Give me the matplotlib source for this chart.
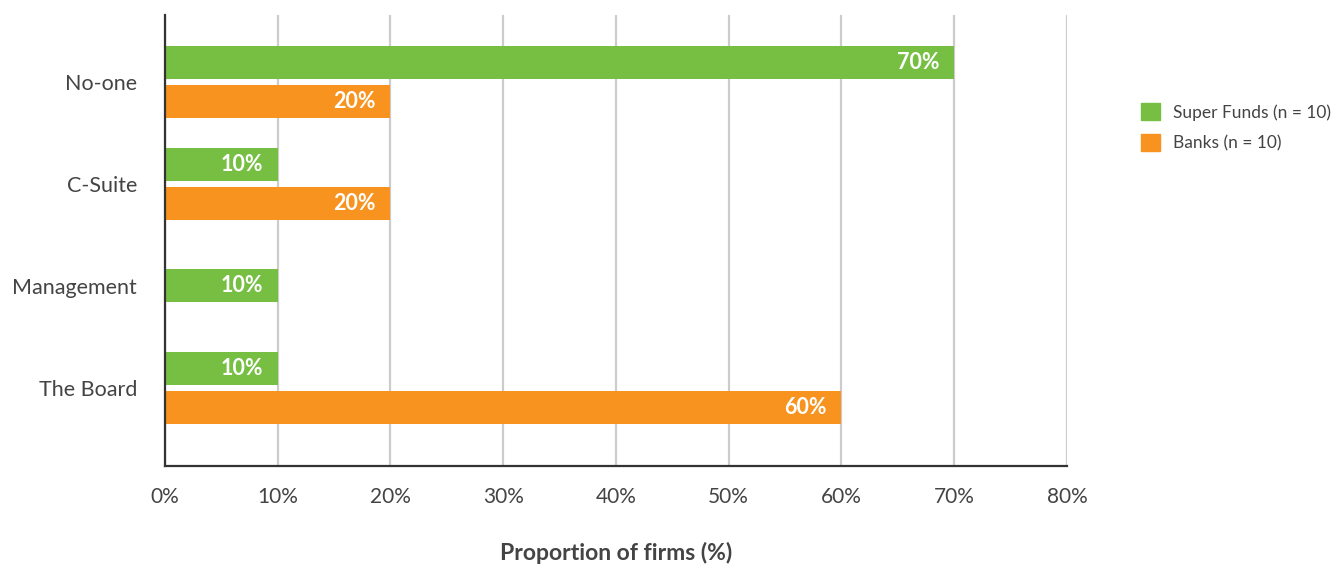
import numpy as np
import matplotlib.pyplot as plt
from matplotlib.patches import Patch

plt.rcParams['font.family'] = ['Lato', 'DejaVu Sans']

categories = ['No-one', 'C-Suite', 'Management', 'The Board']
super_funds = [70, 10, 10, 10]
banks = [20, 20, 0, 60]
series_names = ['Super Funds (n = 10)', 'Banks (n = 10)']
xticks = [0, 10, 20, 30, 40, 50, 60, 70, 80]

green = '#76bf43'
orange = '#f7931e'
text_col = '#444444'

fig = plt.figure(figsize=(13.37, 5.66), dpi=100)
ax = fig.add_axes([0.1234, 0.1767, 0.6746, 0.797])

h = 0.324
off = 0.191
y = np.arange(len(categories))

for i in range(len(categories)):
    sf, bk = super_funds[i], banks[i]
    if bk == 0:
        yy = [(sf, y[i], green)]
    else:
        yy = [(sf, y[i] - off, green), (bk, y[i] + off, orange)]
    for val, pos, col in yy:
        if val == 0:
            continue
        ax.barh(pos, val, height=h, color=col, zorder=3)
        ax.text(val - 1.3, pos, f'{val}%', ha='right', va='center',
                color='white', fontsize=15.5, fontweight='bold', zorder=4)

ax.set_xlim(0, 80)
ax.set_ylim(3.765, -0.657)
ax.set_xticks(xticks)
ax.set_xticklabels([f'{t}%' for t in xticks])
ax.set_yticks(y)
ax.set_yticklabels(categories)
ax.tick_params(axis='x', length=0, pad=15, labelsize=15, labelcolor=text_col)
ax.tick_params(axis='y', length=0, pad=20, labelsize=15.5, labelcolor=text_col)

ax.grid(axis='x', color='#cccccc', linewidth=1.6, zorder=0)
for s in ['top', 'right']:
    ax.spines[s].set_visible(False)
for s in ['left', 'bottom']:
    ax.spines[s].set_color('#333333')
    ax.spines[s].set_linewidth(1.6)
    ax.spines[s].set_zorder(5)

fig.text(0.4606, 0.023, 'Proportion of firms (%)', fontsize=16.5, fontweight='bold',
         color=text_col, ha='center', va='center')

handles = [Patch(color=green), Patch(color=orange)]
fig.legend(handles, series_names, loc='upper left', bbox_to_anchor=(0.842, 0.845),
           frameon=False, fontsize=12.5, labelcolor=text_col,
           handlelength=1.1, handleheight=1.1, handletextpad=0.7, labelspacing=0.8)

fig.savefig('out.png', dpi=100)
